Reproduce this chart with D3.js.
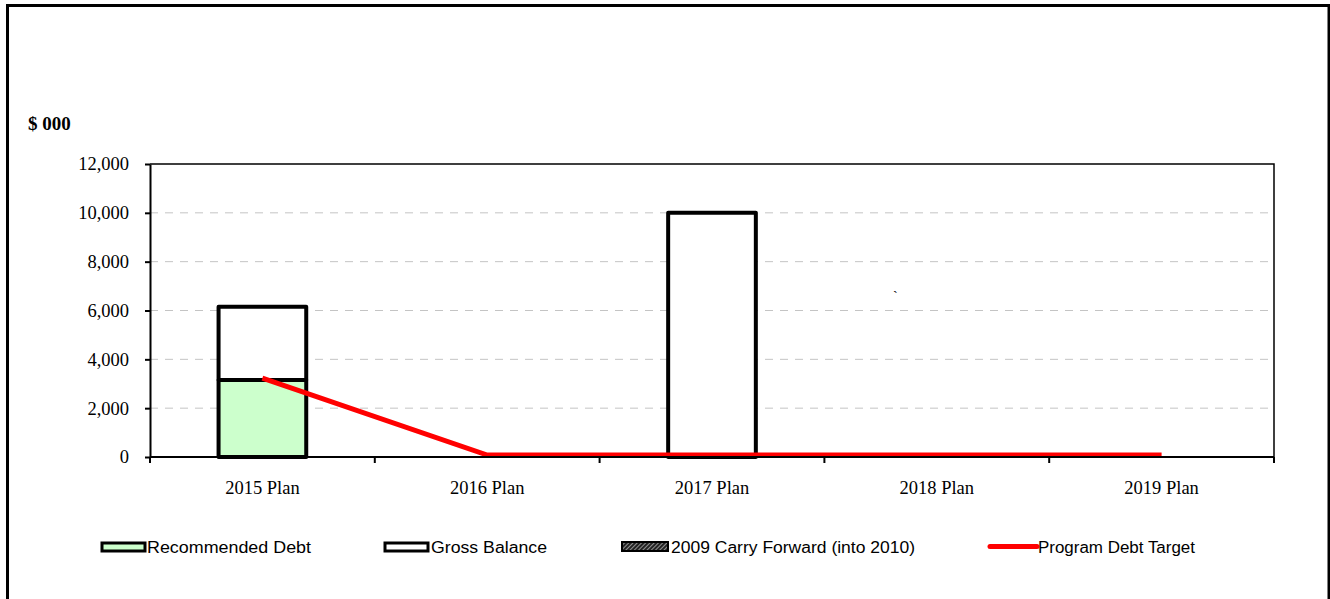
<!DOCTYPE html>
<html>
<head>
<meta charset="utf-8">
<script src="https://cdn.jsdelivr.net/npm/d3@7"></script>
<style>
  html, body { margin: 0; padding: 0; background: #fff; }
  svg { display: block; }
</style>
</head>
<body>
<svg id="chart" width="1330" height="599"></svg>
<script>
// Capital plan years and the series plotted for each
const categories = ["2015 Plan", "2016 Plan", "2017 Plan", "2018 Plan", "2019 Plan"];
const recommendedDebt = [3150, 0, 0, 0, 0];
const grossBalance = [3000, 0, 10000, 0, 0];
const carryForward = [0, 0, 0, 0, 0];
const debtTarget = [3150, 0, 0, 0, 0];
const yTicks = [0, 2000, 4000, 6000, 8000, 10000, 12000];
const seriesNames = ["Recommended Debt", "Gross Balance", "2009 Carry Forward (into 2010)", "Program Debt Target"];

const svg = d3.select("#chart");
const plot = { left: 150, right: 1274, top: 164, bottom: 457 };
const serif = "'Liberation Serif', 'Times New Roman', serif";

// outer frame
svg.append("rect")
  .attr("x", 7.5).attr("y", 5.5)
  .attr("width", 1321.5).attr("height", 620)
  .attr("fill", "none").attr("stroke", "#000").attr("stroke-width", 3);

// hatch pattern for the carry-forward series
const defs = svg.append("defs");
const pat = defs.append("pattern")
  .attr("id", "hatch").attr("patternUnits", "userSpaceOnUse")
  .attr("width", 3).attr("height", 3)
  .attr("patternTransform", "rotate(45)");
pat.append("rect").attr("width", 3).attr("height", 3).attr("fill", "#222");
pat.append("line").attr("x1", 0).attr("y1", 0).attr("x2", 0).attr("y2", 3)
  .attr("stroke", "#ddd").attr("stroke-width", 1.2);

const x = d3.scaleBand().domain(categories).range([plot.left, plot.right]).paddingInner(0).paddingOuter(0);
const y = d3.scaleLinear().domain([0, 12000]).range([plot.bottom, plot.top]);
const barW = x.bandwidth() * 0.39;

// gridlines
svg.append("g").selectAll("line")
  .data(yTicks.filter(t => t > 0 && t < 12000))
  .join("line")
  .attr("x1", plot.left).attr("x2", plot.right)
  .attr("y1", d => y(d)).attr("y2", d => y(d))
  .attr("stroke", "#c4c4c4").attr("stroke-width", 1)
  .attr("stroke-dasharray", "8,7");

// plot area top and right edges
svg.append("path")
  .attr("d", `M${plot.left},${plot.top}H${plot.right}V${plot.bottom}`)
  .attr("fill", "none").attr("stroke", "#000").attr("stroke-width", 1.5);

// stacked bars
const rows = categories.map((c, i) => ({
  cat: c, debt: recommendedDebt[i], gross: grossBalance[i], carry: carryForward[i]
}));
const stack = d3.stack().keys(["debt", "gross", "carry"])(rows);
const fills = { debt: "#ccffcc", gross: "#ffffff", carry: "url(#hatch)" };

stack.forEach(layer => {
  svg.append("g").selectAll("rect")
    .data(layer.filter(d => d[1] - d[0] > 0))
    .join("rect")
    .attr("x", d => x(d.data.cat) + (x.bandwidth() - barW) / 2)
    .attr("y", d => y(d[1]))
    .attr("width", barW)
    .attr("height", d => y(d[0]) - y(d[1]))
    .attr("fill", fills[layer.key])
    .attr("stroke", "#000").attr("stroke-width", 4)
    .attr("stroke-linejoin", "round");
});

// program debt target line
const line = d3.line()
  .x((d, i) => x(categories[i]) + x.bandwidth() / 2)
  .y(d => y(d) - 2);
svg.append("path")
  .datum(debtTarget)
  .attr("d", line)
  .attr("fill", "none").attr("stroke", "#ff0000").attr("stroke-width", 5);

// y axis
const yAxis = d3.axisLeft(y).tickValues(yTicks).tickSize(5).tickSizeOuter(0)
  .tickFormat(d3.format(","));
const gy = svg.append("g").attr("transform", `translate(${plot.left},0)`).call(yAxis);
gy.select(".domain").attr("stroke", "#000").attr("stroke-width", 2);
gy.selectAll(".tick line").attr("stroke", "#000").attr("stroke-width", 2);
gy.selectAll(".tick text")
  .attr("x", -21)
  .attr("font-family", serif)
  .attr("font-size", 18.5).attr("fill", "#000");

// x axis: ticks sit on category boundaries
const gx = svg.append("g").attr("transform", `translate(0,${plot.bottom})`);
gx.append("line").attr("x1", plot.left).attr("x2", plot.right)
  .attr("stroke", "#000").attr("stroke-width", 2);
const bounds = categories.map(c => x(c)).concat([plot.right]);
gx.selectAll(".bnd").data(bounds).join("line").attr("class", "bnd")
  .attr("x1", d => d).attr("x2", d => d).attr("y1", 0).attr("y2", 6)
  .attr("stroke", "#000").attr("stroke-width", 2);
gx.selectAll("text").data(categories).join("text")
  .attr("x", d => x(d) + x.bandwidth() / 2)
  .attr("y", 37)
  .attr("text-anchor", "middle")
  .attr("font-family", serif)
  .attr("font-size", 18.5).attr("fill", "#000")
  .text(d => d);

// units label
svg.append("text")
  .attr("x", 28).attr("y", 130)
  .attr("font-family", serif)
  .attr("font-weight", "bold").attr("font-size", 19)
  .text("$ 000");

// stray mark inside the plot
svg.append("text")
  .attr("x", 893).attr("y", 301)
  .attr("font-family", serif)
  .attr("font-size", 14)
  .text("`");

// legend
const legend = [
  { name: seriesNames[0], kind: "box", fill: "#ccffcc", sx: 101, tx: 147, tw: 164 },
  { name: seriesNames[1], kind: "box", fill: "#ffffff", sx: 384, tx: 431, tw: 116 },
  { name: seriesNames[2], kind: "hatch", fill: "url(#hatch)", sx: 622, tx: 671, tw: 244 },
  { name: seriesNames[3], kind: "line", fill: "#ff0000", sx: 990, tx: 1038, tw: 157 }
];
const lg = svg.append("g");
legend.forEach(item => {
  if (item.kind === "line") {
    lg.append("line").attr("x1", item.sx).attr("x2", item.sx + 47)
      .attr("y1", 546.5).attr("y2", 546.5)
      .attr("stroke", "#ff0000").attr("stroke-width", 5).attr("stroke-linecap", "round");
  } else if (item.kind === "hatch") {
    lg.append("rect").attr("x", item.sx).attr("y", 542)
      .attr("width", 46).attr("height", 9)
      .attr("fill", "url(#hatch)").attr("stroke", "#000").attr("stroke-width", 2);
  } else {
    lg.append("rect").attr("x", item.sx + 1).attr("y", 543)
      .attr("width", 43).attr("height", 8)
      .attr("fill", item.fill).attr("stroke", "#000").attr("stroke-width", 3);
  }
  lg.append("text")
    .attr("x", item.tx).attr("y", 553)
    .attr("font-family", "'Liberation Sans', Arial, sans-serif")
    .attr("font-size", 16)
    .attr("textLength", item.tw).attr("lengthAdjust", "spacingAndGlyphs")
    .text(item.name);
});
</script>
</body>
</html>
